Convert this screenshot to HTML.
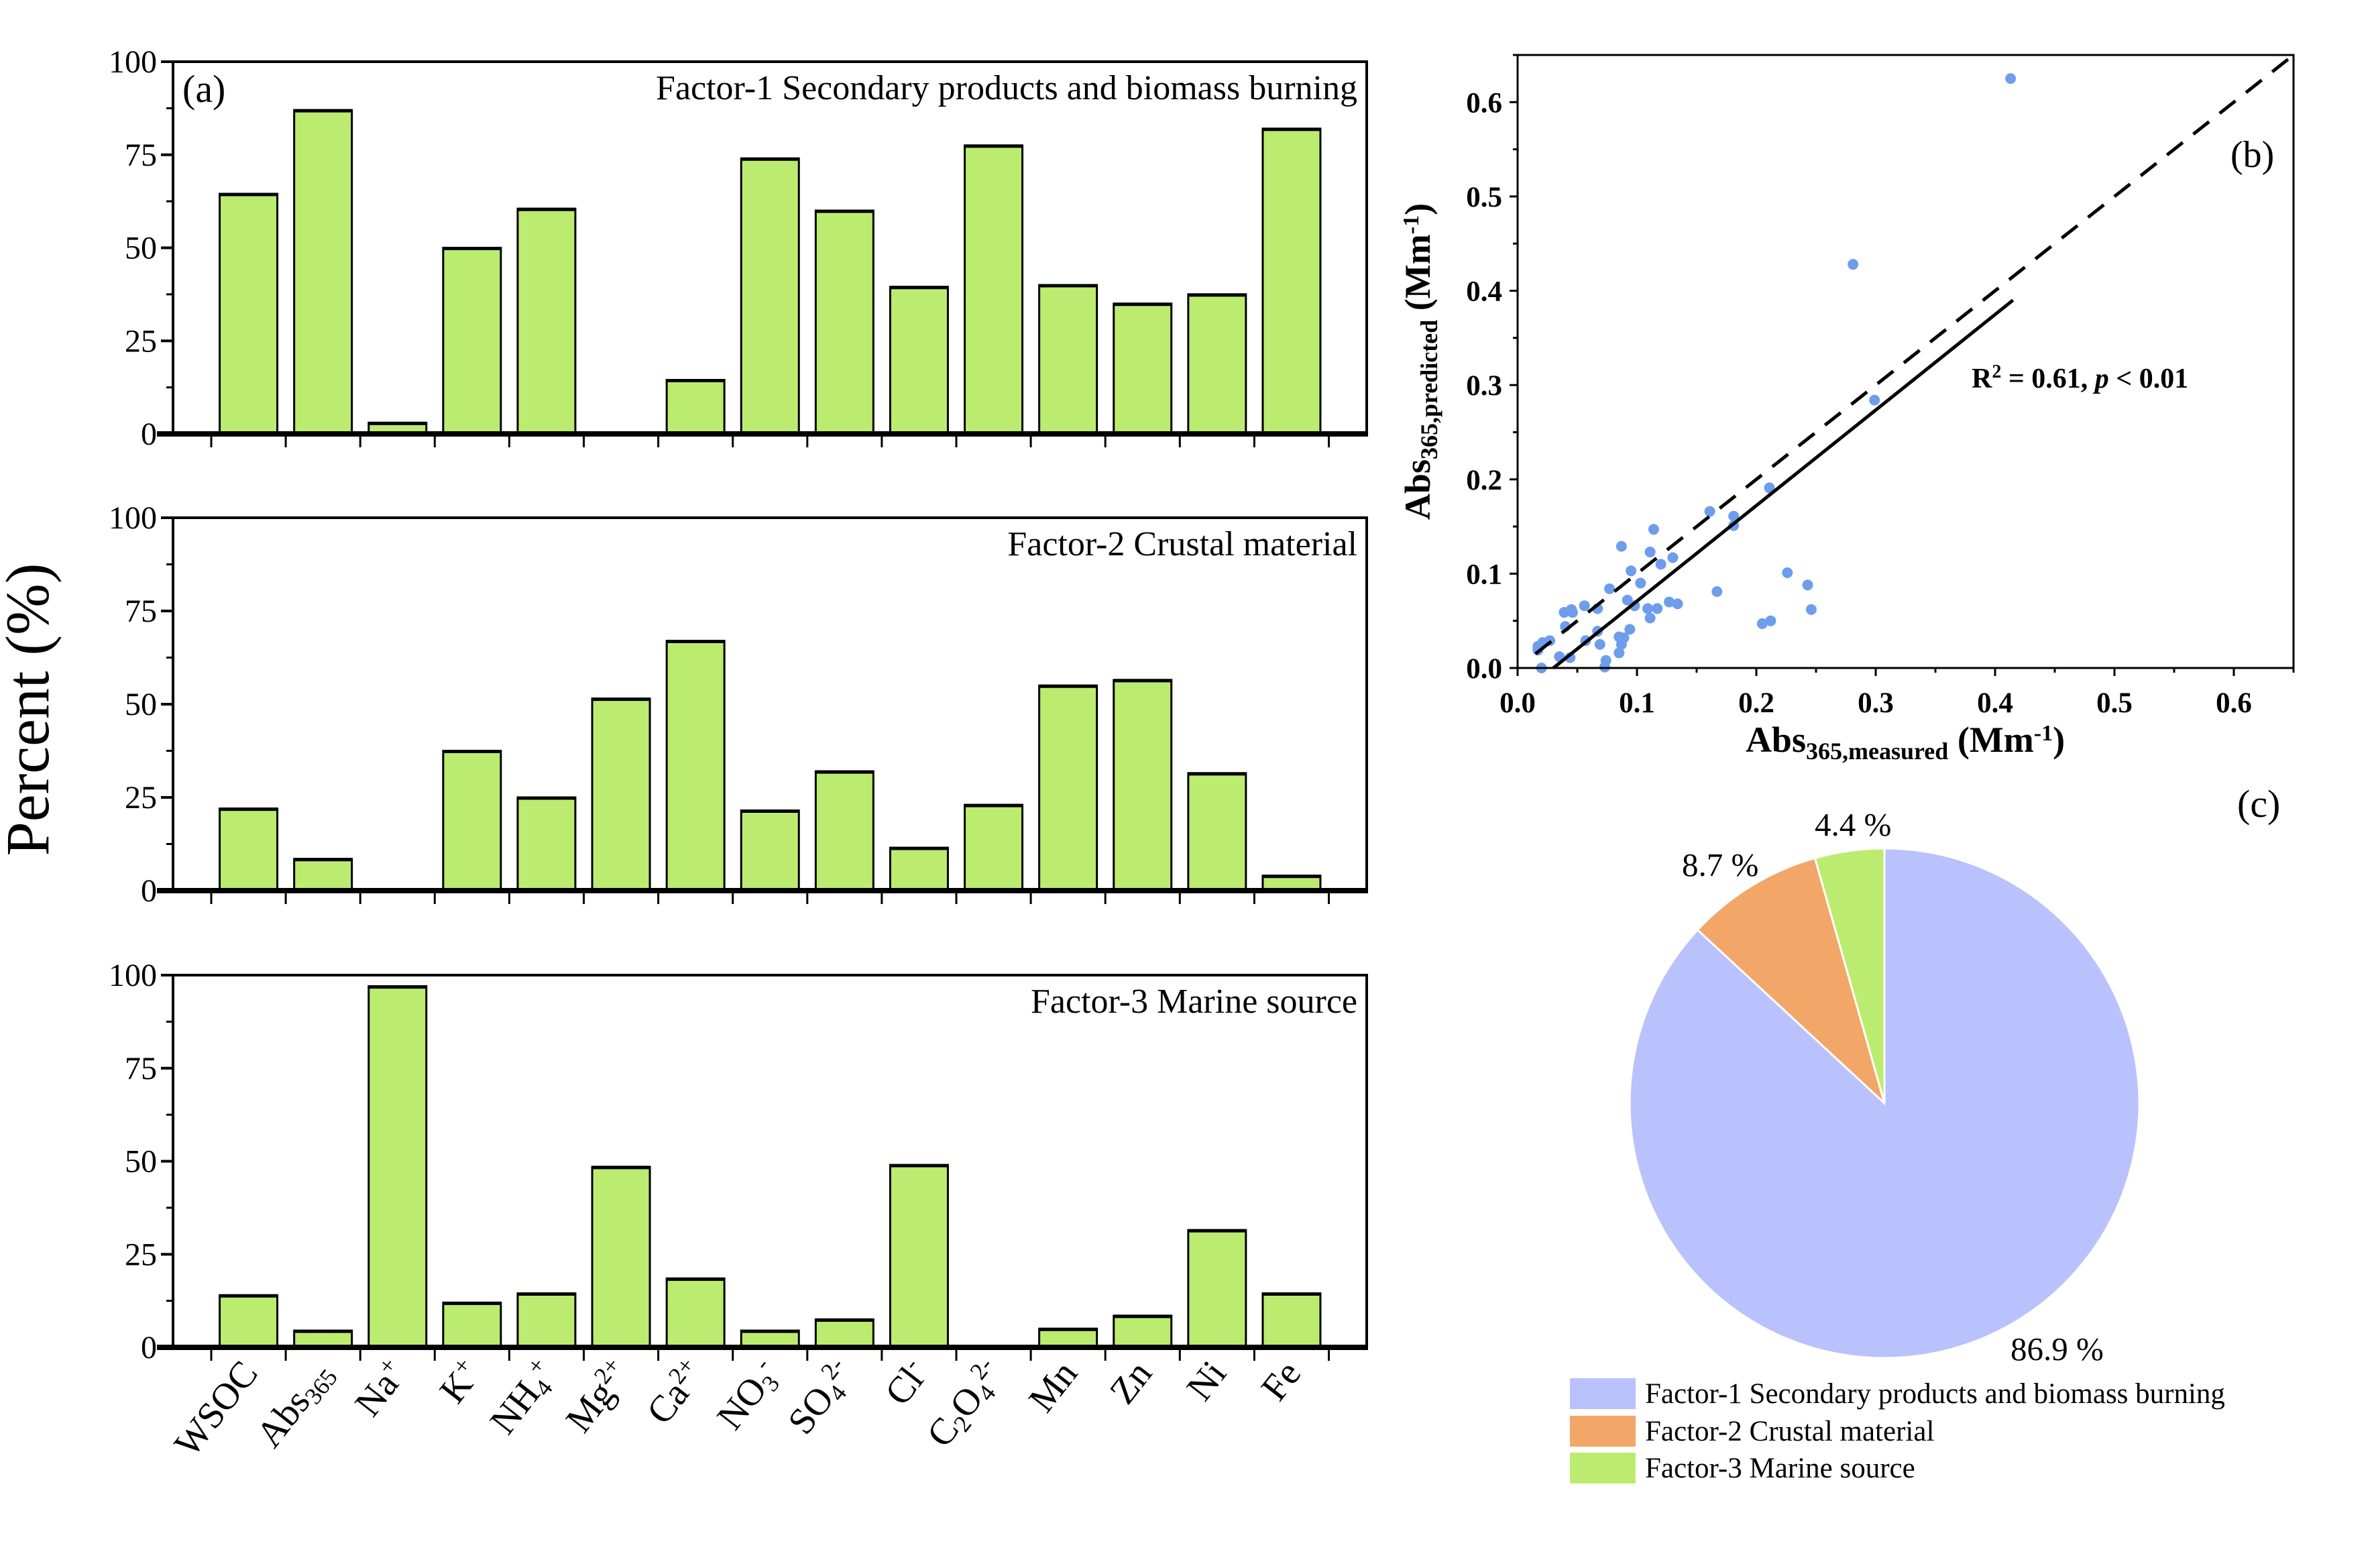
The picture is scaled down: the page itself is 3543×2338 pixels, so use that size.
<!DOCTYPE html>
<html><head><meta charset="utf-8"><style>
body{margin:0;background:#fff}
svg{display:block;font-family:"Liberation Serif",serif}
</style></head><body>
<svg id="fig" xmlns="http://www.w3.org/2000/svg" width="3543" height="2338" viewBox="0 0 3543 2338">
<text x="72" y="1058" font-size="92" text-anchor="middle" transform="rotate(-90 72 1058)">Percent (%)</text>
<text x="272" y="152" font-size="58">(a)</text>
<g id="bars"></g>
<g id="xlabels"></g>
<g id="scatter"></g>
<g id="pie"></g>
</svg>
<script>
const NS="http://www.w3.org/2000/svg";
const categories=["WSOC","Abs365","Na+","K+","NH4+","Mg2+","Ca2+","NO3-","SO42-","Cl-","C2O42-","Mn","Zn","Ni","Fe"];
const factor1=[64.5,87,3,50,60.5,0,14.5,74,60,39.5,77.5,40,35,37.5,82];
const factor2=[22,8.5,0,37.5,25,51.5,67,21.5,32,11.5,23,55,56.5,31.5,4];
const factor3=[14,4.5,97,12,14.5,48.5,18.5,4.5,7.5,49,0,5,8.5,31.5,14.5];
const panelTitles=["Factor-1 Secondary products and biomass burning","Factor-2 Crustal material","Factor-3 Marine source"];
const yTicks=[0,25,50,75,100];
const scatterX=[0.413,0.281,0.299,0.211,0.161,0.181,0.181,0.114,0.087,0.111,0.130,0.120,0.095,0.103,0.226,0.243,0.077,0.167,0.092,0.127,0.134,0.056,0.098,0.067,0.109,0.117,0.246,0.045,0.039,0.046,0.111,0.212,0.205,0.040,0.094,0.067,0.085,0.089,0.027,0.057,0.021,0.069,0.087,0.017,0.017,0.085,0.035,0.044,0.074,0.073,0.020];
const scatterY=[0.625,0.428,0.284,0.191,0.166,0.161,0.151,0.147,0.129,0.123,0.117,0.110,0.103,0.090,0.101,0.088,0.084,0.081,0.072,0.070,0.068,0.066,0.066,0.063,0.063,0.063,0.062,0.062,0.059,0.059,0.053,0.050,0.047,0.044,0.041,0.039,0.033,0.032,0.029,0.029,0.027,0.025,0.025,0.023,0.019,0.016,0.012,0.011,0.008,0.001,0.0];
const fitLine=[[0.03,0],[0.415,0.39]];
const scatterTicks=[0,0.1,0.2,0.3,0.4,0.5,0.6];
const pieLabels=["Factor-1 Secondary products and biomass burning","Factor-2 Crustal material","Factor-3 Marine source"];
const pieValues=[86.9,8.7,4.4];
const pieColors=["#b9c2fc","#f2a667","#bcec6f"];

function el(tag,attrs,parent,text){const e=document.createElementNS(NS,tag);for(const k in attrs)e.setAttribute(k,attrs[k]);if(text!==undefined)e.textContent=text;parent.appendChild(e);return e;}

const bars=document.getElementById('bars');
const L=258,R=2038,slot=111.1,x0=315;
const panels=[{top:92,bot:647,data:factor1},{top:772,bot:1328,data:factor2},{top:1454,bot:2009,data:factor3}];
const catX=i=>x0+slot*(i+0.5);
panels.forEach((p,pi)=>{
  const y=v=>p.bot-(p.bot-p.top)*v/100;
  const g=el('g',{},bars);
  
  
  p.data.forEach((v,i)=>{
    if(v<=0)return;
    const r=el('rect',{x:catX(i)-43,y:y(v),width:86,height:p.bot-y(v),fill:'#bcec6f',stroke:'#000','stroke-width':3},g);
    
    
    el('line',{x1:catX(i)-43,x2:catX(i)+43,y1:y(v)+1,y2:y(v)+1,stroke:'#000','stroke-width':5},g);
  });
  const fr=el('path',{d:`M${L} ${p.top}H${R}V${p.bot}`,fill:'none',stroke:'#000','stroke-width':4},g);
  
  
  el('line',{x1:L,x2:L,y1:p.top,y2:p.bot,stroke:'#000','stroke-width':4},g);
  el('line',{x1:L-24,x2:R+2,y1:p.bot,y2:p.bot,stroke:'#000','stroke-width':8},g);
  for(let i=0;i<=15;i++)el('line',{x1:x0+slot*i,x2:x0+slot*i,y1:p.bot,y2:p.bot+20,stroke:'#000','stroke-width':3},g);
  yTicks.forEach(t=>{
    el('line',{x1:L-18,x2:L,y1:y(t),y2:y(t),stroke:'#000','stroke-width':4},g);
    const tx=el('text',{x:L-24,y:y(t)+16,'font-size':48,'text-anchor':'end'},g,String(t));
    
    
  });
  [12.5,37.5,62.5,87.5].forEach(t=>el('line',{x1:L-10,x2:L,y1:y(t),y2:y(t),stroke:'#000','stroke-width':3},g));
  const tt=el('text',{x:R-14,y:p.top+56,'font-size':52,'text-anchor':'end'},g,panelTitles[pi]);
  
  
});

const labelParts={"WSOC":[["WSOC",""]],"Abs365":[["Abs",""],["365","sub"]],"Na+":[["Na",""],["+","sup"]],"K+":[["K",""],["+","sup"]],"NH4+":[["NH",""],["4","sub"],["+","sup"]],"Mg2+":[["Mg",""],["2+","sup"]],"Ca2+":[["Ca",""],["2+","sup"]],"NO3-":[["NO",""],["3","sub"],["-","sup"]],"SO42-":[["SO",""],["4","sub"],["2-","sup"]],"Cl-":[["Cl",""],["-","sup"]],"C2O42-":[["C",""],["2","sub"],["O",""],["4","sub"],["2-","sup"]],"Mn":[["Mn",""]],"Zn":[["Zn",""]],"Ni":[["Ni",""]],"Fe":[["Fe",""]]};
const xl=document.getElementById('xlabels');
categories.forEach((c,i)=>{
  const x=catX(i)+16,yb=2048;
  const t=el('text',{x:x,y:yb,'font-size':56,'text-anchor':'end',transform:`rotate(-52 ${x} ${yb})`},xl);
  
  
  labelParts[c].forEach(([s,k])=>{
    const a={};
    if(k==='sub'){a['baseline-shift']='-25%';a['font-size']=36;}
    if(k==='sup'){a['baseline-shift']='55%';a['font-size']=36;}
    el('tspan',a,t,s);
  });
});

const sc=document.getElementById('scatter');
const SL=2263,SR=3420,ST=82,SB=996;
const sx=v=>SL+(SR-SL)*v/0.65, sy=v=>SB-(SB-ST)*v/0.65;
scatterX.forEach((v,i)=>{
  const c=el('ellipse',{cx:sx(v),cy:sy(scatterY[i]),rx:8,ry:8,fill:'#6e9deb'},sc);
  
  
});
const dl=el('line',{x1:sx(0.015),y1:sy(0.015),x2:sx(0.65),y2:sy(0.65),stroke:'#000','stroke-width':5,'stroke-dasharray':'30 20'},sc);


const fl=el('line',{x1:sx(fitLine[0][0]),y1:sy(fitLine[0][1]),x2:sx(fitLine[1][0]),y2:sy(fitLine[1][1]),stroke:'#000','stroke-width':5},sc);


const sf=el('rect',{x:SL,y:ST,width:SR-SL,height:SB-ST,fill:'none',stroke:'#000','stroke-width':3},sc);


scatterTicks.forEach(t=>{
  el('line',{x1:sx(t),x2:sx(t),y1:SB,y2:SB+12,stroke:'#000','stroke-width':3},sc);
  el('line',{x1:SL-12,x2:SL,y1:sy(t),y2:sy(t),stroke:'#000','stroke-width':3},sc);
  el('line',{x1:sx(t+0.05),x2:sx(t+0.05),y1:SB,y2:SB+7,stroke:'#000','stroke-width':3},sc);
  el('line',{x1:SL-7,x2:SL,y1:sy(t+0.05),y2:sy(t+0.05),stroke:'#000','stroke-width':3},sc);
  const a=el('text',{x:sx(t),y:1062,'font-size':43,'font-weight':'bold','text-anchor':'middle'},sc,t.toFixed(1));
  
  
  const b=el('text',{x:2240,y:sy(t)+15,'font-size':43,'font-weight':'bold','text-anchor':'end'},sc,t.toFixed(1));
  
  
});
</script>
<script>
(function(){
const sc=document.getElementById('scatter');
sc.insertAdjacentHTML('beforeend',
`<text x="2841" y="1121" font-size="54" font-weight="bold" text-anchor="middle">Abs<tspan font-size="36" baseline-shift="-30%">365,measured</tspan> (Mm<tspan font-size="34" baseline-shift="50%">-1</tspan>)</text>
<text x="2132" y="539" font-size="54" font-weight="bold" text-anchor="middle" transform="rotate(-90 2132 539)">Abs<tspan font-size="36" baseline-shift="-30%">365,predicted</tspan> (Mm<tspan font-size="34" baseline-shift="50%">-1</tspan>)</text>
<text x="2940" y="578" font-size="42" font-weight="bold">R<tspan font-size="28" baseline-shift="55%">2</tspan> = 0.61, <tspan font-style="italic">p</tspan> &lt; 0.01</text>
<text x="3326" y="249" font-size="56">(b)</text>`);
})();
(function(){
const pie=document.getElementById('pie');
const cx=2810,cy=1645,r=380;
let acc=0;
const order=[2,1,0];
order.forEach(idx=>{
  const a0=acc/100*2*Math.PI; acc+=pieValues[idx]; const a1=acc/100*2*Math.PI;
  const p=(a)=>[cx-r*Math.sin(a),cy-r*Math.cos(a)];
  const [x0,y0]=p(a0),[x1,y1]=p(a1);
  const large=(a1-a0)>Math.PI?1:0;
  const s=document.createElementNS("http://www.w3.org/2000/svg",'path');
  s.setAttribute('d',`M${cx} ${cy}L${x0} ${y0}A${r} ${r} 0 ${large} 0 ${x1} ${y1}Z`);
  s.setAttribute('fill',pieColors[idx]);s.setAttribute('stroke','#fff');s.setAttribute('stroke-width','3');
  
  
  pie.appendChild(s);
});
pie.insertAdjacentHTML('beforeend',
`<text x="2706" y="1246" font-size="49">${pieValues[2]} %</text>
<text x="2508" y="1306" font-size="49">${pieValues[1]} %</text>
<text x="2998" y="2028" font-size="49">${pieValues[0]} %</text>
<text x="3336" y="1218" font-size="58">(c)</text>`);
const ly=[2055,2111,2166];
pieLabels.forEach((t,i)=>{
  pie.insertAdjacentHTML('beforeend',`<rect x="2341" y="${ly[i]}" width="98" height="46" fill="${pieColors[i]}"/><text x="2453" y="${ly[i]+37}" font-size="43">${t}</text>`);
});
})();
</script>
</body></html>
